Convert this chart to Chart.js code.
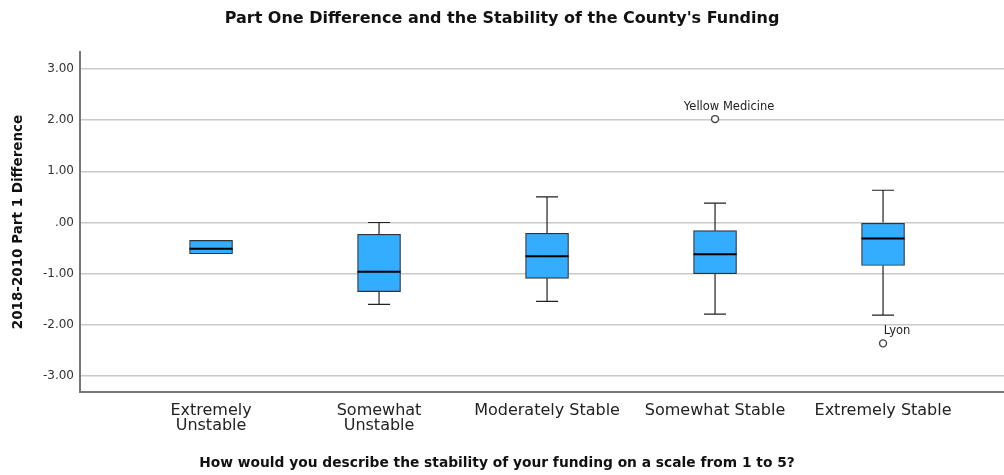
<!DOCTYPE html>
<html>
<head>
<meta charset="utf-8">
<title>Part One Difference and the Stability of the County's Funding</title>
<script src="https://cdn.jsdelivr.net/npm/chart.js@4/dist/chart.umd.min.js"></script>
<style>
  html, body { margin: 0; padding: 0; background: #ffffff; }
  #wrap { width: 1004px; height: 475px; }
</style>
</head>
<body>
<div id="wrap"><canvas id="chart" width="1004" height="475"></canvas></div>
<script>
// Funding stability groups (x axis)
const categories = [
  ['Extremely', 'Unstable'],
  ['Somewhat', 'Unstable'],
  'Moderately Stable',
  'Somewhat Stable',
  'Extremely Stable'
];

// Five-number summaries of the 2018-2010 Part 1 difference per group
const whiskerLow  = [-0.61, -1.60, -1.54, -1.79, -1.81];
const quartile1   = [-0.61, -1.35, -1.09, -1.00, -0.84];
const medians     = [-0.51, -0.96, -0.66, -0.62, -0.31];
const quartile3   = [-0.35, -0.23, -0.21, -0.16,  0.00];
const whiskerHigh = [-0.35,  0.00,  0.50,  0.38,  0.63];

// Outlying counties (group number is 1-based)
const outlierGroup  = [4, 5];
const outlierValues = [2.02, -2.36];
const outlierNames  = ['Yellow Medicine', 'Lyon'];

// Axis tick values for the difference scale
const yTickValues = [-3, -2, -1, 0, 1, 2, 3];

const FONT = "'DejaVu Sans', 'Liberation Sans', Arial, sans-serif";

const boxData = categories.map((c, i) => ({ x: i + 1, y: [quartile1[i], quartile3[i]] }));
const outlierData = outlierGroup.map((g, i) => ({ x: g, y: outlierValues[i] }));

// Whiskers, caps, medians and outlier names on top of the boxes
const boxplotExtras = {
  id: 'boxplotExtras',
  afterDatasetsDraw(chart) {
    const { ctx, scales: { x, y } } = chart;
    const bars = chart.getDatasetMeta(0).data;
    ctx.save();
    categories.forEach((c, i) => {
      const bar = bars[i];
      const cx = x.getPixelForValue(i + 1);
      const half = bar.width / 2;
      const capHalf = 11;
      const yLo = y.getPixelForValue(whiskerLow[i]);
      const yQ1 = y.getPixelForValue(quartile1[i]);
      const yQ3 = y.getPixelForValue(quartile3[i]);
      const yHi = y.getPixelForValue(whiskerHigh[i]);
      const yMed = y.getPixelForValue(medians[i]);

      ctx.strokeStyle = '#222222';
      ctx.lineWidth = 1.2;
      ctx.beginPath();
      if (yHi < yQ3) {
        ctx.moveTo(cx, yQ3); ctx.lineTo(cx, yHi);
        ctx.moveTo(cx - capHalf, yHi); ctx.lineTo(cx + capHalf, yHi);
      }
      if (yLo > yQ1) {
        ctx.moveTo(cx, yQ1); ctx.lineTo(cx, yLo);
        ctx.moveTo(cx - capHalf, yLo); ctx.lineTo(cx + capHalf, yLo);
      }
      ctx.stroke();

      ctx.strokeStyle = '#000000';
      ctx.lineWidth = 2;
      ctx.beginPath();
      ctx.moveTo(cx - half, yMed);
      ctx.lineTo(cx + half, yMed);
      ctx.stroke();
    });

    const pts = chart.getDatasetMeta(1).data;
    ctx.fillStyle = '#222222';
    ctx.font = '11.5px ' + FONT;
    ctx.textAlign = 'center';
    ctx.textBaseline = 'middle';
    pts.forEach((p, i) => {
      ctx.fillText(outlierNames[i], p.x + 14, p.y - 12);
    });

    // x axis title
    ctx.fillStyle = '#111111';
    ctx.font = 'bold 13.8px ' + FONT;
    ctx.fillText('How would you describe the stability of your funding on a scale from 1 to 5?', 497, 463);
    ctx.restore();
  }
};

new Chart(document.getElementById('chart'), {
  type: 'bar',
  data: {
    datasets: [
      {
        type: 'bar',
        data: boxData,
        backgroundColor: '#33adff',
        borderColor: '#333333',
        borderWidth: 1.2,
        borderSkipped: false,
        barThickness: 43
      },
      {
        type: 'scatter',
        data: outlierData,
        pointStyle: 'circle',
        pointRadius: 3.5,
        pointBorderWidth: 1.4,
        pointBorderColor: '#444444',
        pointBackgroundColor: '#ffffff'
      }
    ]
  },
  options: {
    responsive: false,
    animation: false,
    devicePixelRatio: 1,
    layout: { padding: 0, autoPadding: false },
    plugins: {
      legend: { display: false },
      tooltip: { enabled: false },
      title: {
        display: true,
        text: "Part One Difference and the Stability of the County's Funding",
        color: '#111111',
        font: { family: FONT, size: 16, weight: 'bold', lineHeight: 1.2 },
        padding: { top: 9, bottom: 23.8 }
      }
    },
    scales: {
      x: {
        type: 'linear',
        offset: false,
        bounds: 'ticks',
        min: 0.22,
        max: 5.72,
        afterBuildTicks(scale) {
          scale.ticks = categories.map((c, i) => ({ value: i + 1 }));
        },
        afterFit(scale) {
          scale.height = 83;
          scale.paddingLeft = 0;
          scale.paddingRight = 0;
        },
        grid: { display: false, drawTicks: false },
        border: { display: true, color: '#777777', width: 2 },
        ticks: {
          autoSkip: false,
          maxRotation: 0,
          padding: 11.5,
          color: '#222222',
          font: { family: FONT, size: 16, lineHeight: '15px' },
          callback: (v) => categories[Math.round(v) - 1]
        }
      },
      y: {
        type: 'linear',
        min: -3.31,
        max: 3.33,
        afterBuildTicks(scale) {
          scale.ticks = yTickValues.map(v => ({ value: v }));
        },
        afterFit(scale) { scale.width = 80; },
        grid: { color: '#cacaca', lineWidth: 1.5, drawTicks: false },
        border: { display: true, color: '#777777', width: 2 },
        ticks: {
          padding: 6,
          color: '#333333',
          font: { family: FONT, size: 12 },
          callback: (v) => (v === 0 ? '.00' : v.toFixed(2))
        },
        title: {
          display: true,
          text: '2018-2010 Part 1 Difference',
          color: '#111111',
          font: { family: FONT, size: 13.5, weight: 'bold', lineHeight: 1.2 },
          padding: { top: 10, bottom: 0 }
        }
      }
    }
  },
  plugins: [boxplotExtras]
});
</script>
</body>
</html>
